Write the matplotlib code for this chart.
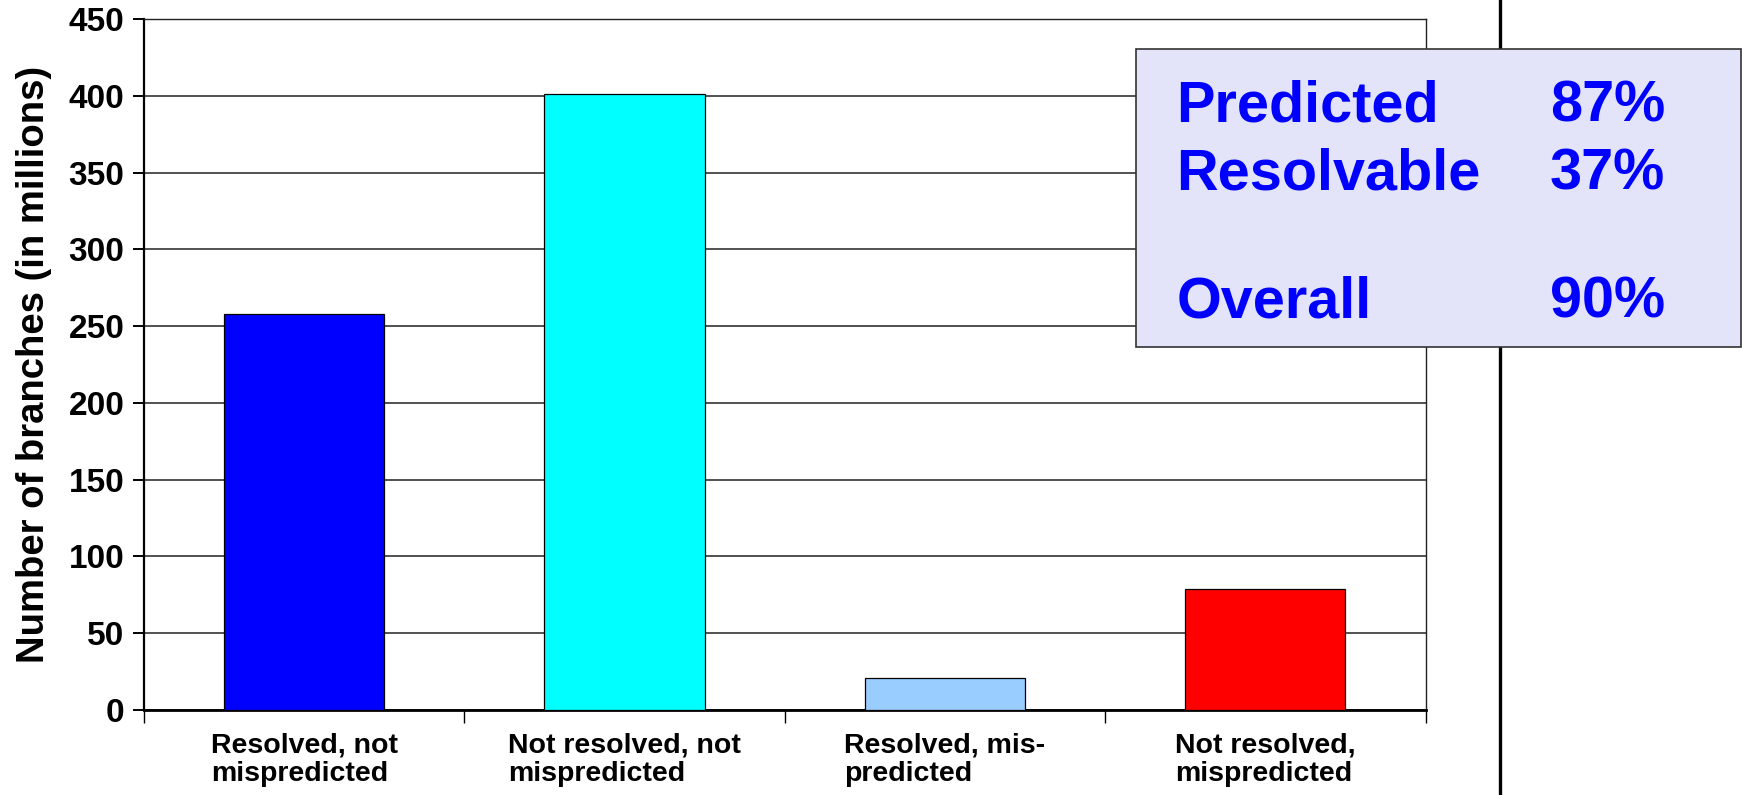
import matplotlib
matplotlib.use("Agg")
import matplotlib.pyplot as plt
from matplotlib.patches import Rectangle
from matplotlib.lines import Line2D
import numpy as np

plt.rcParams['font.family'] = ['Liberation Sans', 'DejaVu Sans']
plt.rcParams['font.weight'] = 'bold'

categories = ["Resolved, not\nmispredicted",
              "Not resolved, not\nmispredicted",
              "Resolved, mis-\npredicted",
              "Not resolved,\nmispredicted"]
branches_millions = [258, 401, 21, 79]
bar_colors = ["#0000FF", "#00FFFF", "#99CCFF", "#FF0000"]
y_ticks = [0, 50, 100, 150, 200, 250, 300, 350, 400, 450]

summary_labels = ["Predicted", "Resolvable", "Overall"]
summary_values = ["87%", "37%", "90%"]

W, H = 1742, 795
fig = plt.figure(figsize=(W / 100, H / 100), dpi=100)
fig.patch.set_facecolor("white")

ax = fig.add_axes([144 / W, (H - 710) / H, (1425.5 - 144) / W, (710 - 19) / H])
x = np.arange(len(categories))
ax.bar(x, branches_millions, width=0.5, color=bar_colors,
       edgecolor="black", linewidth=0.9, zorder=3)

ax.set_xlim(-0.5, len(categories) - 0.5)
ax.set_ylim(0, 450)
ax.set_yticks(y_ticks)
ax.set_yticklabels([str(v) for v in y_ticks], fontsize=24, fontweight="bold")
ax.yaxis.grid(True, color="#222222", linewidth=1.1, zorder=0)
ax.set_axisbelow(True)

ax.set_xticks(x)
ax.set_xticklabels(categories, fontsize=20.5, fontweight="bold",
                   multialignment="left", linespacing=1.15)
ax.set_xticks(np.arange(-0.5, len(categories), 1.0), minor=True)
ax.tick_params(axis="x", which="major", length=0, pad=16)
ax.tick_params(axis="x", which="minor", length=9, width=1.0, color="black")
ax.tick_params(axis="y", length=8, width=1.4, pad=6, color="black")

ax.set_ylabel("Number of branches (in millions)", fontsize=27.5,
              fontweight="bold", labelpad=12)

for side in ("top", "right"):
    ax.spines[side].set_linewidth(1.0)
    ax.spines[side].set_color("#222222")
ax.spines["left"].set_linewidth(1.6)
ax.spines["bottom"].set_linewidth(2.0)

# separator line on the right side of the figure
fig.add_artist(Line2D([1500 / W, 1500 / W], [0, 1], transform=fig.transFigure,
                      color="black", linewidth=2.4, zorder=5))

# summary panel
box_left, box_right = 1135.5, 1741
box_top, box_bottom = 49, 347
fig.add_artist(Rectangle((box_left / W, (H - box_bottom) / H),
                         (box_right - box_left) / W, (box_bottom - box_top) / H,
                         transform=fig.transFigure, facecolor="#E3E3FA",
                         edgecolor="#333333", linewidth=1.2, zorder=6))

baselines = [122, 189, 318]
for lab, val, yb in zip(summary_labels, summary_values, baselines):
    fig.text(1176.5 / W, (H - yb) / H, lab, fontsize=41.5, fontweight="bold",
             color="#0000FF", ha="left", va="baseline", zorder=7)
    fig.text(1550 / W, (H - yb) / H, val, fontsize=41.5, fontweight="bold",
             color="#0000FF", ha="left", va="baseline", zorder=7)

fig.savefig("out.png", dpi=100)
